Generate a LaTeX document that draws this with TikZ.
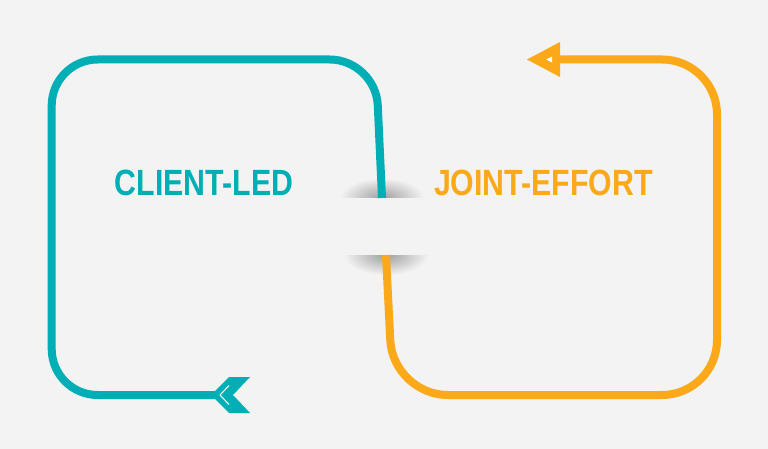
\documentclass[tikz,border=0pt]{standalone}
\usepackage{fontspec}
\newfontfamily\headfont[FakeStretch=0.83]{Liberation Sans}
\usetikzlibrary{positioning}
\definecolor{bgc}{HTML}{F2F3F2}
\definecolor{tealc}{HTML}{00AFB6}
\definecolor{orangec}{HTML}{FBA919}

\begin{document}
\begin{tikzpicture}[x=1pt,y=-1pt,
    loopline/.style={line width=8pt,rounded corners=#1},
    label/.style={font=\headfont\bfseries\fontsize{36.5}{40}\selectfont,anchor=base,inner sep=0pt},
    shadow/.style={inner color=black!38,outer color=bgc}]
    \fill[bgc] (0,0) rectangle (768,449);
    \useasboundingbox (0,0) rectangle (768,449);

    \coordinate (t0) at (382,198);
    \coordinate (t1) at (375.7,59.5);
    \coordinate (t2) at (51.7,59.5);
    \coordinate (t3) at (51.7,395);
    \coordinate (tail) at (211,395);

    \coordinate (o0) at (386,255);
    \coordinate (o1) at (393,395);
    \coordinate (o2) at (717,395);
    \coordinate (o3) at (717,59.5);
    \coordinate (head) at (527,59.5);
    \coordinate (hb) at (560,59.5);

    \begin{scope}
      \clip (330,170) rectangle (434,198);
      \shade[shadow] (t0) ellipse (42 and 20);
    \end{scope}
    \begin{scope}
      \clip (334,255) rectangle (438,283);
      \shade[shadow] (o0) ellipse (42 and 20);
    \end{scope}

    \draw[loopline=46,tealc] (t0) -- (t1) -- (t2) -- (t3) -- ([xshift=4pt]tail);
    \fill[tealc] (tail) -- ++(18,-18) -- ++(21,0) -- ++(-17,18) -- ++(17,18) -- ++(-21,0) -- cycle;
    \draw[white,line width=1pt] ([shift={(18,-9.5)}]tail) -- ++(-9,9.5) -- ++(9,9.5);

    \draw[loopline=55,orangec] (o0) -- (o1) -- (o2) -- (o3) -- (hb);
    \fill[orangec] (head) -- ++(33,-17.5) -- ++(0,35) -- cycle;
    \fill[white] ([xshift=19pt]head) -- ++(6,-3) -- ++(0,6) -- cycle;

    \node[label,text=tealc] (client) at (204,195.5) {CLIENT-LED};
    \node[label,text=orangec] (joint) at (543.5,195.5) {JOINT-EFFORT};
\end{tikzpicture}
\end{document}
